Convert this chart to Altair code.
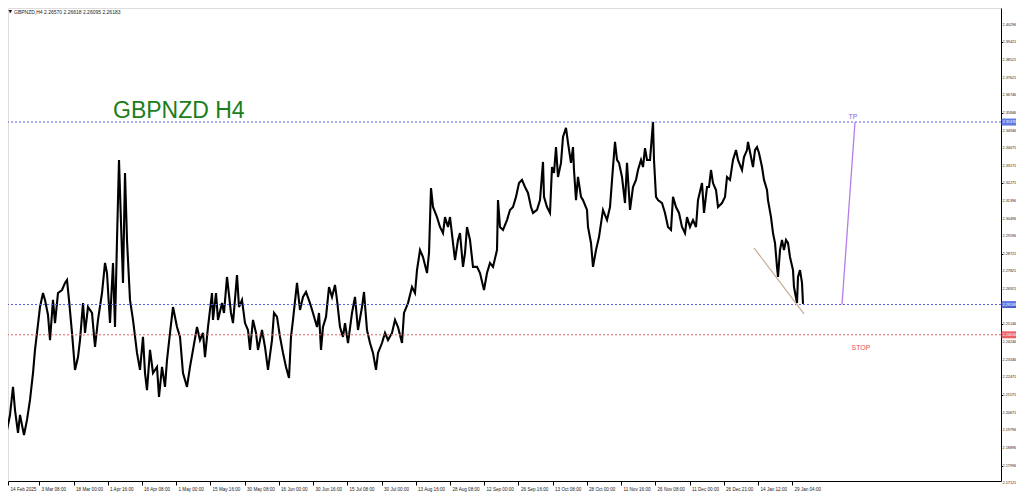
import json
import altair as alt
import pandas as pd

# ---- price path (H4 bar index, price) ----
bars = [0, 6, 12, 18, 22, 28, 32, 36, 40, 46, 52, 58, 62, 66, 72, 78, 82, 88, 92, 98, 102, 108, 116, 122, 126,
        130, 136, 142, 148, 152, 158, 162, 168, 176, 182, 188, 196, 202, 206, 212, 218, 222, 226, 230, 234, 238,
        242, 246, 252, 258, 266, 272, 278, 282, 286, 292, 298, 306, 310, 316, 322, 326, 332, 338, 346, 352, 358,
        366, 372, 378, 386, 392, 398, 402,
        408, 416, 418, 424, 428, 436, 440, 446, 454, 458, 466, 470, 476, 482, 488, 492, 498, 504, 508, 516, 522,
        528, 536, 540, 546, 552, 558, 564, 570, 574, 578, 586, 592, 598, 604, 612, 618, 626, 630, 634, 638, 644,
        650, 656, 662, 666, 672, 678, 682, 688, 696, 702, 708, 716, 720, 726, 732, 738, 744, 748, 756, 762, 768,
        776, 782, 788, 796, 800, 808,
        816, 822, 826, 832, 838, 846, 850, 854, 858, 866, 872, 878, 882, 888, 892, 898, 902, 908, 912, 918, 922,
        926, 932, 938, 946, 952, 960, 966, 972, 978, 986, 988, 992, 998, 1006, 1012, 1018, 1024, 1030, 1036, 1042,
        1048, 1054, 1058, 1066, 1072, 1078, 1080, 1086, 1092, 1096, 1100, 1104, 1108, 1114, 1118, 1124, 1128,
        1134, 1138, 1140, 1144, 1148, 1154, 1158, 1166, 1168, 1174, 1178, 1184, 1190, 1198, 1206, 1212,
        1218, 1222, 1226, 1230, 1236, 1242, 1246, 1252, 1258, 1264, 1268, 1274, 1278, 1282, 1286, 1292, 1298,
        1300, 1304, 1308, 1316, 1322, 1328, 1334, 1338, 1344, 1350, 1356, 1362, 1366, 1372, 1378, 1384, 1388,
        1396, 1400, 1406, 1410, 1414, 1418, 1424, 1428, 1436, 1442, 1446, 1452, 1458, 1464, 1468, 1476, 1480,
        1486, 1488, 1494, 1498, 1502, 1506, 1510, 1516, 1520, 1526, 1528, 1534, 1538, 1542, 1546, 1548, 1552,
        1556, 1560, 1564, 1568, 1572, 1578, 1580, 1586, 1588, 1592, 1596, 1598]

prices = [2.1930, 2.1980, 2.2056, 2.2198, 2.2081, 2.1965, 2.2056, 2.2005, 2.1955, 2.2031, 2.2132, 2.2268, 2.2385,
          2.2471, 2.2602, 2.2673, 2.2638, 2.2562, 2.2435, 2.2638, 2.2521, 2.2673, 2.2688, 2.2724, 2.2739, 2.2638,
          2.2471, 2.2284, 2.2349, 2.2435, 2.2622, 2.2471, 2.2602, 2.2572, 2.2400, 2.2537, 2.2673, 2.2825, 2.2774,
          2.2521, 2.2825, 2.2501, 2.2941, 2.3346, 2.3027, 2.2724, 2.3280, 2.2941, 2.2638, 2.2537, 2.2370, 2.2284,
          2.2451, 2.2268, 2.2182, 2.2385, 2.2268, 2.2299, 2.2147, 2.2299, 2.2198, 2.2334, 2.2471, 2.2602, 2.2501,
          2.2451, 2.2268, 2.2198, 2.2299, 2.2385, 2.2501, 2.2435, 2.2471, 2.2349,
          2.2501, 2.2673, 2.2537, 2.2673, 2.2537, 2.2622, 2.2572, 2.2754, 2.2572, 2.2521, 2.2764, 2.2602, 2.2638,
          2.2521, 2.2486, 2.2385, 2.2537, 2.2471, 2.2385, 2.2486, 2.2400, 2.2284, 2.2435, 2.2572, 2.2552, 2.2451,
          2.2370, 2.2299, 2.2243, 2.2451, 2.2537, 2.2724, 2.2587, 2.2653, 2.2678, 2.2622, 2.2572, 2.2501, 2.2572,
          2.2385, 2.2501, 2.2552, 2.2703, 2.2653, 2.2714, 2.2638, 2.2501, 2.2451, 2.2521, 2.2420, 2.2572, 2.2653,
          2.2486, 2.2602, 2.2678, 2.2486, 2.2420, 2.2370, 2.2284, 2.2370, 2.2420, 2.2471, 2.2435, 2.2471, 2.2537,
          2.2501, 2.2420, 2.2572, 2.2622,
          2.2703, 2.2673, 2.2789, 2.2890, 2.2855, 2.2774, 2.2875, 2.3204, 2.3108, 2.3057, 2.3007, 2.2976, 2.3057,
          2.3007, 2.3057, 2.2926, 2.2840, 2.2941, 2.2976, 2.2805, 2.2875, 2.3007, 2.2941, 2.2805, 2.2805, 2.2774,
          2.2688, 2.2774, 2.2825, 2.2805, 2.2890, 2.3143, 2.3007, 2.2992, 2.3042, 2.3093, 2.3108, 2.3159, 2.3229,
          2.3245, 2.3209, 2.3179, 2.3108, 2.3078, 2.3093, 2.3143, 2.3336, 2.3159, 2.3108, 2.3078, 2.3310, 2.3280,
          2.3411, 2.3260, 2.3331, 2.3462, 2.3508, 2.3432, 2.3331, 2.3411, 2.3295, 2.3143, 2.3260, 2.3159, 2.3143,
          2.3093, 2.3007, 2.2926, 2.2805, 2.2890, 2.2956, 2.3093, 2.3042, 2.3108,
          2.3310, 2.3437, 2.3346, 2.3331, 2.3260, 2.3128, 2.3331, 2.3093, 2.3209, 2.3245, 2.3295, 2.3346, 2.3310,
          2.3406, 2.3346, 2.3346, 2.3538, 2.3346, 2.3159, 2.3143, 2.3128, 2.3078, 2.3007, 2.2992, 2.3159, 2.3108,
          2.3078, 2.3007, 2.2976, 2.3057, 2.3007, 2.3042, 2.3007, 2.3143, 2.3229, 2.3078, 2.3209, 2.3209, 2.3295,
          2.3229, 2.3194, 2.3108, 2.3128, 2.3159, 2.3260, 2.3245, 2.3346, 2.3396, 2.3346, 2.3295, 2.3361, 2.3396,
          2.3437, 2.3361, 2.3310, 2.3396, 2.3411, 2.3381, 2.3310, 2.3245, 2.3194, 2.3143, 2.3057, 2.2976, 2.2926,
          2.2805, 2.2754, 2.2890, 2.2941, 2.2890, 2.2941, 2.2926, 2.2855, 2.2789, 2.2703, 2.2622, 2.2754, 2.2789,
          2.2724, 2.2618]

# ---- drawn objects ----
trend_bars = [1500, 1600]
trend_prices = [2.2901, 2.2567]
tp_arrow_bars = [1676, 1702]
tp_arrow_prices = [2.26146, 2.35376]

level_names = ["TP", "Entry", "Stop"]
level_prices = [2.35376, 2.26146, 2.24616]
level_labels = ["2.35376", "2.26146", "2.24616"]
level_colors = ["#5b5be3", "#5b5be3", "#e86060"]
tag_colors = ["#1f3fd6", "#1f3fd6", "#e21f1f"]

notes = ["TP", "STOP"]
note_bars = [1698, 1714]
note_prices = [2.35657, 2.23973]
note_colors = ["#7a6cd8", "#e05555"]

title_text = ["GBPNZD H4"]
title_bar = [218]
title_price = [2.35582]

header_text = "GBPNZD,H4  2.26570 2.26618 2.26095 2.26183"

# ---- axis ticks ----
y_ticks = [2.41196, 2.40296, 2.39421, 2.38521, 2.37621, 2.36746, 2.35846, 2.34946, 2.34071, 2.33171, 2.32271,
           2.31396, 2.30496, 2.29596, 2.28721, 2.27821, 2.26921, 2.26046, 2.25146, 2.24246, 2.23346, 2.22471,
           2.21571, 2.20671, 2.19796, 2.18896, 2.17996, 2.17121]
y_tick_labels = ["%.5f" % v for v in y_ticks]
x_tick_bars = [8, 70, 139, 207, 275, 344, 412, 481, 549, 618, 686, 755, 823, 892, 960, 1029, 1097, 1165, 1234,
               1302, 1371, 1439, 1508, 1576]
x_tick_labels = ["14 Feb 2025", "3 Mar 08:00", "18 Mar 00:00", "1 Apr 16:00", "16 Apr 08:00", "1 May 00:00",
                 "15 May 16:00", "30 May 08:00", "16 Jun 00:00", "30 Jun 16:00", "15 Jul 08:00", "30 Jul 00:00",
                 "13 Aug 16:00", "28 Aug 08:00", "12 Sep 00:00", "26 Sep 16:00", "13 Oct 08:00", "28 Oct 00:00",
                 "11 Nov 16:00", "26 Nov 08:00", "11 Dec 00:00", "26 Dec 21:00", "14 Jan 12:00", "29 Jan 04:00"]

XDOM = [8, 1994]
YDOM = [2.17221, 2.41145]
W, H = 993, 473
FONT = "Liberation Sans"

xs = alt.Scale(domain=XDOM, nice=False, zero=False)
ys = alt.Scale(domain=YDOM, nice=False, zero=False)

label_expr = "%s[indexof(%s, datum.value)]" % (json.dumps(x_tick_labels), json.dumps(x_tick_bars))

x_axis = alt.Axis(values=x_tick_bars, labelExpr=label_expr, orient="bottom", grid=False, title=None,
                  labelAlign="left", labelBaseline="top", labelFontSize=4.6, labelFont=FONT, labelColor="#222",
                  labelPadding=1, labelOffset=2, tickSize=4, tickColor="#000", domainColor="#000",
                  labelOverlap=False, labelFlush=False)
y_axis = alt.Axis(values=y_ticks, orient="right", grid=False, title=None, labels=False,
                  tickSize=1.5, tickColor="#000", domainColor="#000")

X = alt.X("bar:Q", scale=xs, title=None)
Y = alt.Y("price:Q", scale=ys, title=None)

price_df = pd.DataFrame({"bar": bars, "price": prices})
price = alt.Chart(price_df).mark_line(color="#000", strokeWidth=2.1, clip=True).encode(
    x=alt.X("bar:Q", scale=xs, axis=x_axis),
    y=alt.Y("price:Q", scale=ys, axis=y_axis),
)

# price-scale labels on the right
ylab_df = pd.DataFrame({"price": y_ticks, "label": y_tick_labels})
ylabels = alt.Chart(ylab_df).mark_text(align="left", baseline="middle", fontSize=3.8, font=FONT,
                                       color="#222").encode(x=alt.value(W + 1.5), y=Y, text="label:N")

lev_df = pd.DataFrame({"name": level_names, "price": level_prices, "label": level_labels,
                       "line_color": level_colors, "tag_color": tag_colors})
levels = alt.Chart(lev_df).mark_rule(strokeDash=[2, 2], strokeWidth=1).encode(
    y=Y, color=alt.Color("line_color:N", scale=None))
tags = alt.Chart(lev_df).mark_tick(orient="horizontal", size=15, thickness=7).encode(
    x=alt.value(W + 7.5), y=Y, color=alt.Color("tag_color:N", scale=None))
tag_text = alt.Chart(lev_df).mark_text(align="left", baseline="middle", fontSize=3.8, font=FONT,
                                       color="#ffffff").encode(
    x=alt.value(W + 1.5), y=Y, text="label:N")

trend_df = pd.DataFrame({"bar": trend_bars, "price": trend_prices})
trend = alt.Chart(trend_df).mark_line(color="#c9ad90", strokeWidth=1.2).encode(x=X, y=Y)

tp_df = pd.DataFrame({"bar": tp_arrow_bars, "price": tp_arrow_prices})
tp_line = alt.Chart(tp_df).mark_line(color="#b47ee8", strokeWidth=1.3).encode(x=X, y=Y)

notes_df = pd.DataFrame({"text": notes, "bar": note_bars, "price": note_prices, "col": note_colors})
notes_layer = alt.Chart(notes_df).mark_text(align="center", baseline="middle", fontSize=7, font=FONT).encode(
    x=X, y=Y, text="text:N", color=alt.Color("col:N", scale=None))

title_df = pd.DataFrame({"text": title_text, "bar": title_bar, "price": title_price})
title_layer = alt.Chart(title_df).mark_text(align="left", baseline="alphabetic", fontSize=23, font=FONT,
                                            color="#1b7d1b").encode(x=X, y=Y, text="text:N")

hdr_df = pd.DataFrame({"text": [header_text], "tri": ["\u25BC"]})
header = alt.Chart(hdr_df).mark_text(align="left", baseline="middle", fontSize=5, font=FONT,
                                     color="#222").encode(x=alt.value(6), y=alt.value(3.5), text="text:N")
tri = alt.Chart(hdr_df).mark_text(align="left", baseline="middle", fontSize=4.5, font="DejaVu Sans",
                                  color="#111").encode(x=alt.value(0.5), y=alt.value(3.5), text="tri:N")

chart = alt.layer(price, levels, trend, tp_line, notes_layer, title_layer, ylabels, tags, tag_text,
                  header, tri).properties(
    width=W, height=H,
    autosize=alt.AutoSizeParams(type="none"),
    padding={"left": 0, "top": 0, "right": 15, "bottom": 12},
).configure_view(stroke="#333", strokeWidth=1).configure(background="#ffffff")

chart.save("out.html", embed_options={"renderer": "svg", "actions": False})
